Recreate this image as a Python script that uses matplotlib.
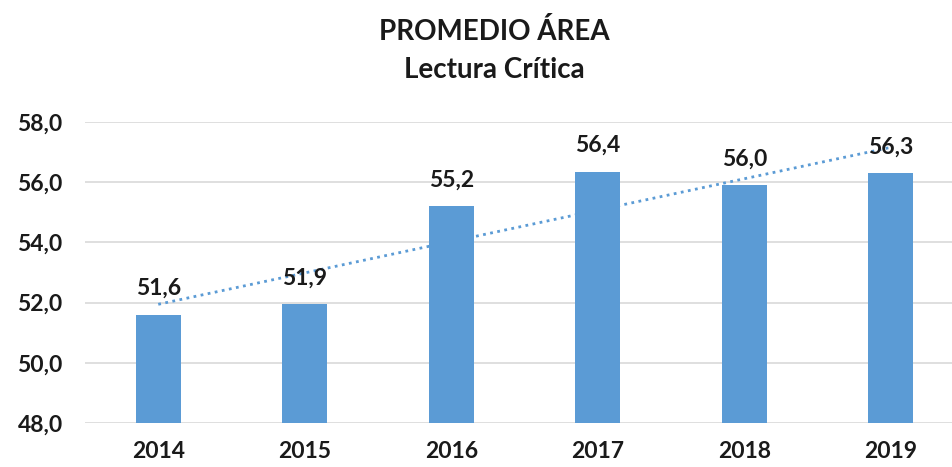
import numpy as np
import matplotlib as mpl
from matplotlib import pyplot as plt

years = ["2014", "2015", "2016", "2017", "2018", "2019"]
promedio = [51.6, 51.95, 55.2, 56.35, 55.9, 56.3]
etiquetas = ["51,6", "51,9", "55,2", "56,4", "56,0", "56,3"]
y_ticks = [48, 50, 52, 54, 56, 58]

mpl.rcParams["font.family"] = ["Lato", "DejaVu Sans"]
mpl.rcParams["font.weight"] = "bold"

bar_color = "#5B9BD5"
txt_color = "#1a1a1a"

fig = plt.figure(figsize=(9.53, 4.67), dpi=100)
ax = fig.add_axes([85 / 953, 1 - 423 / 467, 879 / 953, 301 / 467])

x = np.arange(len(years))
ax.bar(x, promedio, width=0.31, color=bar_color, zorder=3)

# linear trendline like excel
coef = np.polyfit(x, promedio, 1)
ax.plot(x, np.polyval(coef, x), linestyle=(0, (1, 1.6)), color=bar_color,
        linewidth=2, zorder=4)

for xi, val, lab in zip(x, promedio, etiquetas):
    ax.annotate(lab, (xi, val), xytext=(0, 19), textcoords="offset points",
                ha="center", va="center", fontsize=16.5, fontweight="bold",
                color=txt_color, zorder=5)

ax.set_xlim(-0.5, len(years) - 0.5)
ax.set_ylim(48, 58)
ax.set_yticks(y_ticks)
ax.set_yticklabels([f"{t:.1f}".replace(".", ",") for t in y_ticks],
                   fontsize=16.5, fontweight="bold", color=txt_color)
ax.set_xticks(x)
ax.set_xticklabels(years, fontsize=16.5, fontweight="bold", color=txt_color)
ax.tick_params(axis="y", length=0, pad=16)
ax.tick_params(axis="x", length=0, pad=13)
ax.grid(visible=True, axis="y", color="#D9D9D9", linewidth=1.2, zorder=0)
for spine in ax.spines.values():
    spine.set_visible(False)

fig.text(494 / 953, 1 - 32 / 467, "PROMEDIO ÁREA", ha="center", va="center",
         fontsize=20, fontweight="bold", color=txt_color)
fig.text(494 / 953, 1 - 70 / 467, "Lectura Crítica", ha="center", va="center",
         fontsize=20, fontweight="bold", color=txt_color)

fig.savefig("out.png", dpi=100)
